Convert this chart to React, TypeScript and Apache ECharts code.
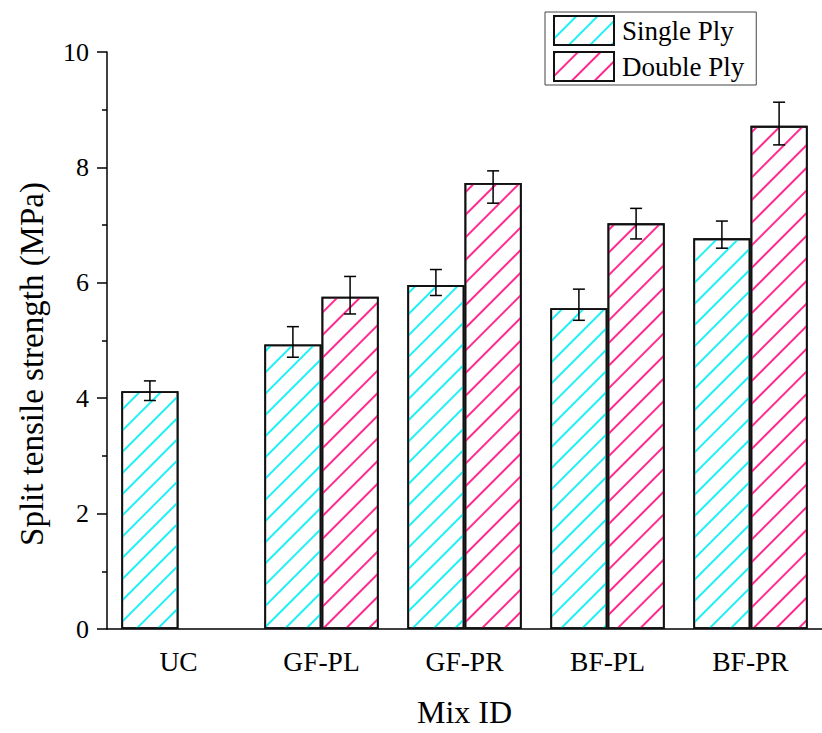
import React, { useEffect, useRef } from "react";
import * as echarts from "echarts";

const categories = ["UC", "GF-PL", "GF-PR", "BF-PL", "BF-PR"];
const singleMean = [4.12, 4.93, 5.96, 5.56, 6.77];
const singleLow = [3.96, 4.71, 5.78, 5.35, 6.6];
const singleHigh = [4.3, 5.24, 6.23, 5.89, 7.07];
const doubleMean: (number | null)[] = [null, 5.76, 7.73, 7.03, 8.72];
const doubleLow: (number | null)[] = [null, 5.46, 7.38, 6.76, 8.39];
const doubleHigh: (number | null)[] = [null, 6.11, 7.94, 7.29, 9.13];
const yTicks = [0, 2, 4, 6, 8, 10];
const yTitle = "Split tensile strength (MPa)";

const FONT = "'Liberation Serif', 'Times New Roman', serif";

function errData(lo: (number | null)[], hi: (number | null)[]) {
  const out: any[] = [];
  lo.forEach((l, i) => {
    if (l != null && hi[i] != null) out.push([i, l, hi[i]]);
  });
  return out;
}

function makeErr(side: number) {
  return (params: any, api: any) => {
    const x = api.value(0);
    const lo = api.coord([x, api.value(1)]);
    const hi = api.coord([x, api.value(2)]);
    const band = api.size([1, 0])[0];
    const cx = lo[0] + side * band * 0.2;
    const cap = 6;
    const st = { stroke: "#000", lineWidth: 1.5 };
    return {
      type: "group",
      children: [
        { type: "line", shape: { x1: cx, y1: hi[1], x2: cx, y2: lo[1] }, style: st },
        { type: "line", shape: { x1: cx - cap, y1: hi[1], x2: cx + cap, y2: hi[1] }, style: st },
        { type: "line", shape: { x1: cx - cap, y1: lo[1], x2: cx + cap, y2: lo[1] }, style: st },
      ],
    };
  };
}

export default function App() {
  const ref = useRef<HTMLDivElement>(null);
  useEffect(() => {
    const chart = echarts.init(ref.current!, null, { renderer: "svg" });
    const option: any = {
      animation: false,
      backgroundColor: "#fff",
      aria: { enabled: true, decal: { show: true } },
      grid: { left: 107, top: 52, width: 722.5, height: 583, containLabel: false },
      legend: {
        orient: "vertical",
        left: 545,
        top: 12,
        icon: "rect",
        itemWidth: 60,
        itemHeight: 29,
        itemGap: 5,
        padding: [3, 12, 3, 8],
        borderColor: "#444",
        borderWidth: 1,
        data: ["Single Ply", "Double Ply"],
        textStyle: { fontFamily: FONT, fontSize: 27, color: "#000", padding: [0, 0, 0, 3] },
      },
      graphic: [
        {
          type: "text",
          x: 32,
          y: 364,
          rotation: Math.PI / 2,
          style: {
            text: yTitle,
            fontFamily: FONT,
            fontSize: 33,
            fill: "#000",
            align: "center",
            verticalAlign: "middle",
          },
        },
      ],
      xAxis: [
        {
          type: "category",
          data: categories,
          boundaryGap: true,
          axisLine: { lineStyle: { color: "#000", width: 1.5 } },
          axisTick: { alignWithLabel: true, length: 10, lineStyle: { color: "#000", width: 1.5 } },
          axisLabel: { fontFamily: FONT, fontSize: 27.5, color: "#000", margin: 18 },
          name: "Mix ID",
          nameLocation: "middle",
          nameGap: 67,
          nameTextStyle: { fontFamily: FONT, fontSize: 32, color: "#000" },
        },
        {
          type: "category",
          data: categories,
          position: "bottom",
          boundaryGap: true,
          axisLine: { show: false },
          axisTick: { alignWithLabel: false, length: 5, lineStyle: { color: "#000", width: 1.5 } },
          axisLabel: { show: false },
        },
      ],
      yAxis: {
        type: "value",
        min: 0,
        max: 10,
        interval: 2,
        axisLine: { show: true, lineStyle: { color: "#000", width: 1.5 } },
        axisTick: { show: true, length: 10, lineStyle: { color: "#000", width: 1.5 } },
        minorTick: { show: true, splitNumber: 2, length: 5, lineStyle: { color: "#000", width: 1.5 } },
        splitLine: { show: false },
        axisLabel: {
          fontFamily: FONT,
          fontSize: 26,
          color: "#000",
          margin: 18,
          formatter: (v: number) => (yTicks.includes(v) ? String(v) : ""),
        },
      },
      series: [
        {
          name: "Single Ply",
          type: "bar",
          data: singleMean,
          barGap: "0%",
          barCategoryGap: "20%",
          itemStyle: {
            color: "#fff",
            borderColor: "#111",
            borderWidth: 1.8,
            decal: {
              symbol: "rect",
              symbolSize: 1,
              color: "#1ff0f6",
              dashArrayX: [1, 0],
              dashArrayY: [1.1, 12.4],
              rotation: -Math.PI / 4,
            },
          },
        },
        {
          name: "Double Ply",
          type: "bar",
          data: doubleMean.map((v) => (v == null ? "-" : v)),
          barGap: "0%",
          barCategoryGap: "20%",
          itemStyle: {
            color: "#fff",
            borderColor: "#111",
            borderWidth: 1.8,
            decal: {
              symbol: "rect",
              symbolSize: 1,
              color: "#ff2a90",
              dashArrayX: [1, 0],
              dashArrayY: [1.1, 13.4],
              rotation: -Math.PI / 4,
            },
          },
        },
        {
          type: "custom",
          name: "errS",
          renderItem: makeErr(-1),
          data: errData(singleLow, singleHigh),
          encode: { x: 0, y: [1, 2] },
          itemStyle: { decal: "none" },
          z: 5,
        },
        {
          type: "custom",
          name: "errD",
          renderItem: makeErr(1),
          data: errData(doubleLow, doubleHigh),
          encode: { x: 0, y: [1, 2] },
          itemStyle: { decal: "none" },
          z: 5,
        },
      ],
    };
    chart.setOption(option);
    return () => chart.dispose();
  }, []);
  return (
    <div
      ref={ref}
      style={{ position: "absolute", left: 0, top: 0, width: 822, height: 733, background: "#fff" }}
    />
  );
}
